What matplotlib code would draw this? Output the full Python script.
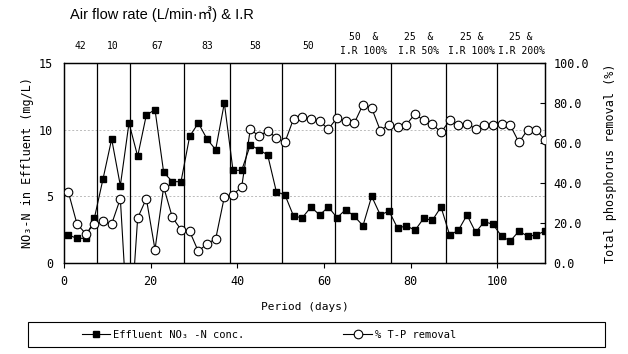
import matplotlib.pyplot as plt
from matplotlib.patches import Rectangle
import numpy as np

# Data (odd days 1..111)
days = list(range(1, 112, 2))
no3 = [2.1, 1.85, 1.85, 3.35, 6.3, 9.3, 5.8, 10.5, 8.0, 11.1,
       11.5, 6.8, 6.1, 6.1, 9.5, 10.5, 9.3, 8.5, 12.0, 6.95,
       6.95, 8.85, 8.5, 8.1, 5.35, 5.1, 3.5, 3.4, 4.2, 3.6,
       4.2, 3.4, 4.0, 3.5, 2.8, 5.0, 3.6, 3.9, 2.6, 2.8,
       2.45, 3.35, 3.2, 4.2, 2.1, 2.45, 3.6, 2.3, 3.1, 2.9,
       2.0, 1.65, 2.4, 2.0, 2.1, 2.4]
tp_removal = [35.5, 19.5, 14.7, 19.5, 20.8, 19.5, 32.2, -42.0, 22.5, 32.2,
              6.7, 38.0, 22.8, 16.7, 15.8, 5.8, 9.7, 12.0, 33.0, 34.2,
              38.0, 67.0, 63.3, 66.2, 62.5, 60.5, 72.2, 73.0, 72.2, 70.8,
              67.0, 72.5, 70.8, 70.0, 79.2, 77.5, 66.2, 69.2, 68.0, 69.2,
              74.5, 71.3, 69.5, 65.3, 71.3, 68.8, 69.7, 67.0, 68.8, 68.8,
              69.7, 68.8, 60.3, 66.7, 66.7, 61.3]

# phase boundaries (days) and the air flow rate / I.R label of each phase
phase_edges = [0, 7.5, 15.2, 27.8, 38.2, 50.2, 62.6, 75.5, 88.1, 100, 111]
phase_labels = ["42", "10", "67", "83", "58", "50",
                "50  &\nI.R 100%", "25  &\nI.R 50%", "25 &\nI.R 100%", "25 &\nI.R 200%"]

plt.rcParams['font.family'] = ['DejaVu Sans Mono', 'Noto Sans CJK KR']

fig = plt.figure(figsize=(6.28, 3.54), dpi=100)
ax = fig.add_axes([64/628, 91/354, 481/628, 200/354])
ax2 = ax.twinx()

# vertical phase dividers
for e in phase_edges[1:-1]:
    ax.axvline(e, color='black', lw=0.9, zorder=1)

ax.set_yticks([0, 5, 10, 15])
ax.yaxis.grid(True, color='#bbbbbb', ls=(0, (2, 2)), lw=0.7)
ax.set_axisbelow(True)

l1, = ax.plot(days, no3, color='black', lw=0.8, marker='s', ms=4.2,
              mfc='black', mec='black', zorder=3)
l2, = ax2.plot(days, tp_removal, color='black', lw=0.8, marker='o', ms=6.2,
               mfc='white', mec='black', mew=0.8, zorder=3)

ax.set_xlim(0, 111)
ax.set_ylim(0, 15)
ax2.set_ylim(0, 100)
ax.set_xticks([0, 20, 40, 60, 80, 100])
ax2.set_yticks([0, 20, 40, 60, 80, 100])
ax2.set_yticklabels([f"{v:.1f}" for v in [0, 20, 40, 60, 80, 100]])

ax.tick_params(axis='y', length=0, labelsize=8.5, pad=8)
ax.tick_params(axis='x', length=3.5, direction='out', labelsize=8.5, pad=5)
ax2.tick_params(axis='y', length=3.5, direction='in', labelsize=8.5, pad=6)
for a in (ax, ax2):
    for s in a.spines.values():
        s.set_linewidth(0.9)

ax.set_ylabel("NO₃-N in Effluent (mg/L)", fontsize=8.5, labelpad=3)
ax2.set_ylabel("Total phosphorus removal (%)", fontsize=8.5, labelpad=11)
ax.set_xlabel("Period (days)", fontsize=8, labelpad=10)

# phase labels above the plot
trans = ax.get_xaxis_transform()
for i, lab in enumerate(phase_labels):
    mid = (phase_edges[i] + phase_edges[i + 1]) / 2
    y = 1.095 if "\n" in lab else 1.085
    ax.text(mid, y, lab, transform=trans, ha='center', va='center',
            fontsize=7, linespacing=1.6)

fig.text(70/628, 1 - 14/354, "Air flow rate (L/min·㎥) & I.R",
         family=['Liberation Sans', 'Noto Sans CJK KR'], fontsize=10.5,
         ha='left', va='center')

# legend box below the chart
fig.patches.append(Rectangle((28/628, 7/354), 577/628, 25/354,
                             transform=fig.transFigure, fill=False,
                             ec='black', lw=0.8))
fig.legend([l1, l2], ["Effluent NO₃ -N conc.", "% T-P removal"],
           loc='center left', bbox_to_anchor=(82/628, 19.5/354), ncol=2,
           frameon=False, fontsize=7.5, handlelength=2.7, handletextpad=0.3,
           columnspacing=9.5, borderpad=0, borderaxespad=0)

fig.savefig("out.png", dpi=100)
